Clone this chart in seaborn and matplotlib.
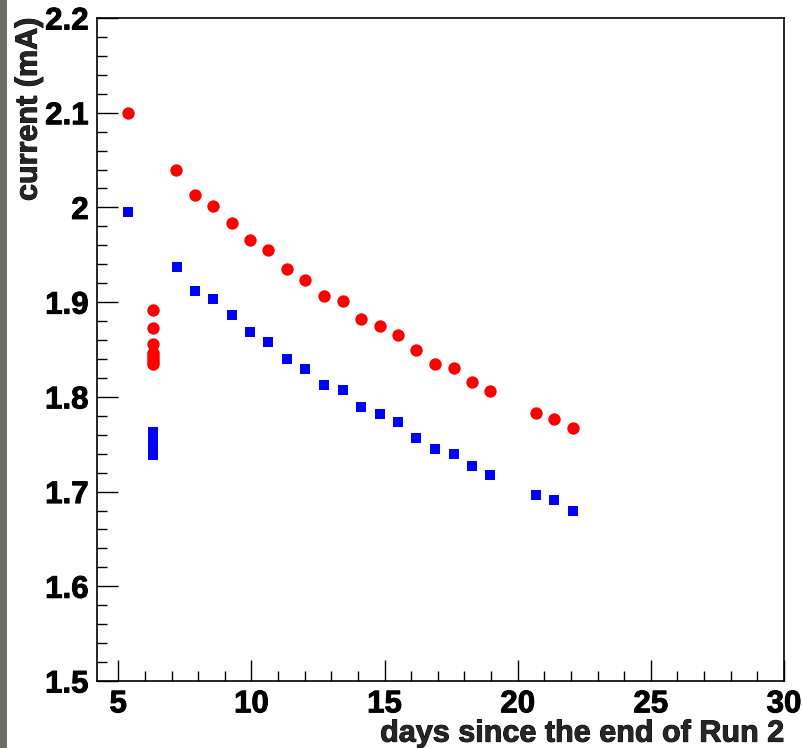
import matplotlib
matplotlib.use("Agg")
import matplotlib.pyplot as plt
from matplotlib.patches import Rectangle
from matplotlib.ticker import MultipleLocator
import matplotlib.patheffects as pe
import seaborn as sns
import pandas as pd

# --- data ---
red_days = [5.37, 6.3, 6.3, 6.3, 6.3, 6.3, 6.3, 6.3, 6.3,
            7.17, 7.88, 8.56, 9.27, 9.95, 10.63, 11.34, 12.02, 12.73, 13.45,
            14.12, 14.84, 15.52, 16.19, 16.91, 17.62, 18.30, 18.97,
            20.67, 21.38, 22.06]
red_current = [2.100, 1.892, 1.873, 1.856, 1.846, 1.843, 1.840, 1.837, 1.835,
               2.040, 2.013, 2.002, 1.984, 1.966, 1.955, 1.935, 1.923, 1.906, 1.901,
               1.882, 1.875, 1.865, 1.849, 1.835, 1.830, 1.816, 1.806,
               1.783, 1.777, 1.767]

blue_days = [5.37, 6.3, 6.3, 6.3, 6.3, 6.3, 6.3,
             7.21, 7.88, 8.56, 9.27, 9.95, 10.63, 11.34, 12.02, 12.73, 13.45,
             14.12, 14.84, 15.52, 16.19, 16.91, 17.62, 18.30, 18.97,
             20.67, 21.38, 22.06]
blue_current = [1.995, 1.763, 1.757, 1.752, 1.747, 1.742, 1.739,
                1.937, 1.912, 1.903, 1.886, 1.869, 1.858, 1.840, 1.829, 1.813, 1.807,
                1.789, 1.782, 1.773, 1.757, 1.745, 1.740, 1.727, 1.717,
                1.696, 1.691, 1.680]

x_label = "days since the end of Run 2"
y_label = "current (mA)"
y_ticks = [1.5, 1.6, 1.7, 1.8, 1.9, 2.0, 2.1, 2.2]
y_tick_labels = ["1.5", "1.6", "1.7", "1.8", "1.9", "2", "2.1", "2.2"]

sns.set_style("ticks")
plt.rcParams['font.family'] = ['Liberation Sans', 'DejaVu Sans']
plt.rcParams['font.weight'] = 'bold'

W, H = 802, 748
fig = plt.figure(figsize=(W / 100, H / 100), dpi=100)
fig.patch.set_facecolor("white")
ax = fig.add_axes([97 / W, 1 - 681 / H, (784 - 97) / W, (681 - 18) / H])

# left dark strip
fig.patches.append(Rectangle((0, 0), 7 / W, 1, transform=fig.transFigure,
                             facecolor="#6b6e63", edgecolor="none", zorder=0))

df_red = pd.DataFrame({"days": red_days, "current": red_current})
df_blue = pd.DataFrame({"days": blue_days, "current": blue_current})

sns.scatterplot(data=df_blue, x="days", y="current", ax=ax, marker="s",
                s=7.9 ** 2, color="#0000ff", linewidth=0, zorder=3)
sns.scatterplot(data=df_red, x="days", y="current", ax=ax, marker="o",
                s=8.9 ** 2, color="#ff0000", linewidth=0, zorder=3)

ax.set_xlim(4.2, 30)
ax.set_ylim(1.5, 2.2)
ax.xaxis.set_major_locator(MultipleLocator(5))
ax.xaxis.set_minor_locator(MultipleLocator(1))
ax.yaxis.set_minor_locator(MultipleLocator(0.02))
ax.set_yticks(y_ticks)
ax.set_yticklabels(y_tick_labels)

ax.tick_params(which="both", direction="in", top=False, right=False, colors="black")
ax.tick_params(which="major", length=15, width=1.0, labelsize=22.5, pad=6)
ax.tick_params(which="minor", length=7.5, width=1.0)
stroke = [pe.withStroke(linewidth=0.7, foreground="black")]
for lab in ax.get_xticklabels() + ax.get_yticklabels():
    lab.set_fontweight("bold")
    lab.set_path_effects(stroke)

for sp in ax.spines.values():
    sp.set_linewidth(1.2)
    sp.set_color("black")

xl = ax.set_xlabel(x_label, loc="right", fontsize=22, fontweight="bold", labelpad=-0.5)
yl = ax.set_ylabel(y_label, loc="top", fontsize=22, fontweight="bold", labelpad=1)
xl.set_path_effects(stroke)
yl.set_path_effects(stroke)

fig.savefig("out.png", dpi=100)
